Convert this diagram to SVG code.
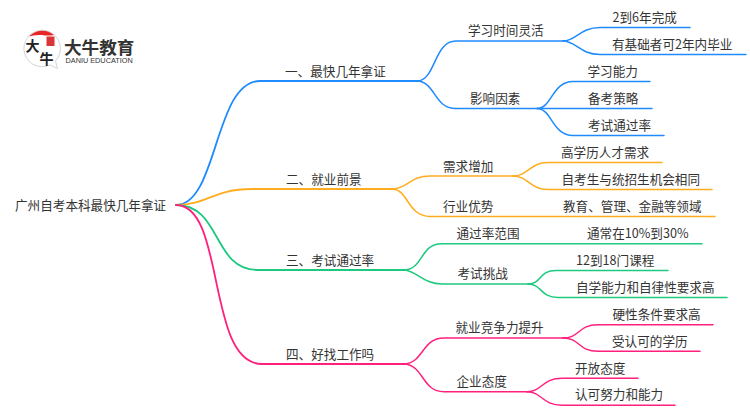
<svg xmlns="http://www.w3.org/2000/svg" width="750" height="410" viewBox="0 0 750 410">
<style>
text{font-family:"Noto Sans CJK SC","Noto Sans",sans-serif;font-size:12.6px;fill:#333;dominant-baseline:central}
.c path{fill:none;stroke-linecap:round}
.b{stroke:#1f8bff}.o{stroke:#ffad1f}.g{stroke:#1cc97f}.p{stroke:#ff1f7d}
.m{stroke-width:1.8}.s{stroke-width:1.5}
</style>
<rect width="750" height="410" fill="#fff"/>
<g id="connectors" class="c">
<path class="b m" d="M176 205C218 205 214 81 260 81H418"/>
<path class="b s" d="M418 81C436 79 434 41 456 41H563"/>
<path class="b s" d="M418 81C436 83 434 108.500 456 108.500H537"/>
<path class="b s" d="M563 41C576 41 580 27.500 600 27.500H690"/>
<path class="b s" d="M563 41C576 41 580 54.500 600 54.500H746"/>
<path class="b s" d="M537 108.500C552 108.500 552 81.500 573 81.500H650"/>
<path class="b s" d="M537 108.500H652"/>
<path class="b s" d="M537 108.500C552 108.500 552 135.500 573 135.500H664"/>
<path class="o m" d="M176 205C208 205 212 189 252 189H393"/>
<path class="o s" d="M393 189C408 188 410 176 430 176H513"/>
<path class="o s" d="M393 189C408 190 408 216.500 430 216.500H715"/>
<path class="o s" d="M513 176C528 176 530 162.500 548 162.500H662"/>
<path class="o s" d="M513 176C528 176 530 189.500 548 189.500H712"/>
<path class="g m" d="M176 205C222 205 212 270 258 270H405"/>
<path class="g s" d="M405 270C424 268 420 243.700 442 243.700H702"/>
<path class="g s" d="M405 270C418 272 424 284 442 284H528"/>
<path class="g s" d="M528 284C542 284 538 270.500 556 270.500H668"/>
<path class="g s" d="M528 284C542 284 540 297.500 558 297.500H727"/>
<path class="p m" d="M176 205C226 205 206 364 262 364H405"/>
<path class="p s" d="M405 364C424 362 422 338 444 338H563"/>
<path class="p s" d="M405 364C424 366 422 391.700 444 391.700H527"/>
<path class="p s" d="M563 338C580 338 578 324.700 598 324.700H713"/>
<path class="p s" d="M563 338C580 338 578 351.300 598 351.300H700"/>
<path class="p s" d="M527 391.700C542 391.700 542 378.300 562 378.300H638"/>
<path class="p s" d="M527 391.700C542 391.700 542 405.300 562 405.300H675"/>
</g>
<g id="logo">
<path d="M55.500 61A18.300 18.300 0 1 0 50 65L57.500 68.500Z" fill="#fff" stroke="#c9c9c9" stroke-width=".8"/>
<path d="M29 36.500A18 18 0 0 1 54 35Q48 36 42 35Q34 34.500 29 36.500Z" fill="#e8262a"/>
<rect x="46.500" y="36.500" width="8" height="9.500" fill="#d9363a"/>
<text x="25.500" y="45" style="font-size:14px;font-weight:700;fill:#222">大</text>
<text x="39.500" y="58" style="font-size:14px;font-weight:700;fill:#222">牛</text>
<text x="64" y="46.500" style="font-size:17.600px;font-weight:700">大牛教育</text>
<text x="65.500" y="60.500" style="font-size:7.300px;font-family:'Liberation Sans',sans-serif">DANIU EDUCATION</text>
</g>
<g id="root"><text x="15" y="204">广州自考本科最快几年拿证</text></g>
<g id="n1"><text x="285" y="70.500">一、最快几年拿证</text></g>
<g id="n1-1"><text x="468" y="29">学习时间灵活</text></g>
<g id="n1-1-1"><text x="612.500" y="16">2到6年完成</text></g>
<g id="n1-1-2"><text x="612" y="43">有基础者可2年内毕业</text></g>
<g id="n1-2"><text x="470" y="97">影响因素</text></g>
<g id="n1-2-1"><text x="587.500" y="70">学习能力</text></g>
<g id="n1-2-2"><text x="588" y="97">备考策略</text></g>
<g id="n1-2-3"><text x="588" y="124">考试通过率</text></g>
<g id="n2"><text x="286" y="178.500">二、就业前景</text></g>
<g id="n2-1"><text x="443" y="165">需求增加</text></g>
<g id="n2-1-1"><text x="561" y="151">高学历人才需求</text></g>
<g id="n2-1-2"><text x="561.500" y="178">自考生与统招生机会相同</text></g>
<g id="n2-2"><text x="443" y="205">行业优势</text></g>
<g id="n2-2-1"><text x="563" y="205">教育、管理、金融等领域</text></g>
<g id="n3"><text x="286" y="259">三、考试通过率</text></g>
<g id="n3-1"><text x="456.500" y="232">通过率范围</text></g>
<g id="n3-1-1"><text x="587" y="232">通常在10%到30%</text></g>
<g id="n3-2"><text x="457.500" y="272">考试挑战</text></g>
<g id="n3-2-1"><text x="576" y="259">12到18门课程</text></g>
<g id="n3-2-2"><text x="576" y="286">自学能力和自律性要求高</text></g>
<g id="n4"><text x="286" y="353">四、好找工作吗</text></g>
<g id="n4-1"><text x="455.500" y="326">就业竞争力提升</text></g>
<g id="n4-1-1"><text x="612.500" y="313">硬性条件要求高</text></g>
<g id="n4-1-2"><text x="612" y="340">受认可的学历</text></g>
<g id="n4-2"><text x="456.500" y="380">企业态度</text></g>
<g id="n4-2-1"><text x="575" y="367">开放态度</text></g>
<g id="n4-2-2"><text x="575" y="393.500">认可努力和能力</text></g>
</svg>
